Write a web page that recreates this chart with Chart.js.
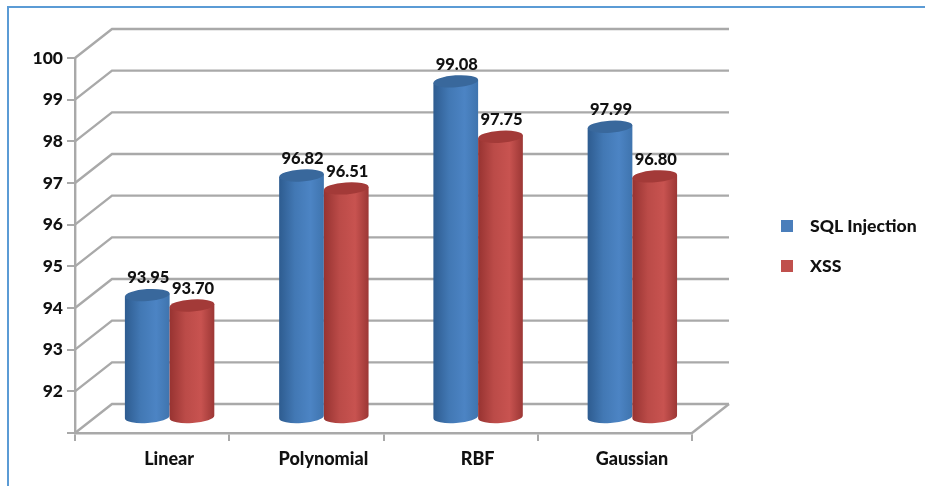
<!DOCTYPE html>
<html>
<head>
<meta charset="utf-8">
<title>Accuracy by kernel</title>
<script src="https://cdn.jsdelivr.net/npm/chart.js@4/dist/chart.umd.min.js"></script>
<style>
    html, body { margin: 0; padding: 0; background: #fff; overflow: hidden; }
    #frame { position: absolute; left: 7px; top: 6px; width: 918px; height: 480px; box-sizing: border-box;
             border-left: 2px solid #5b9bd5; border-top: 2px solid #5b9bd5; }
    #wrap { position: absolute; left: 0; top: 0; width: 925px; height: 486px; }
</style>
</head>
<body>
<div id="frame"></div>
<div id="wrap"><canvas id="chart" width="925" height="486"></canvas></div>
<script>
const categories = ['Linear', 'Polynomial', 'RBF', 'Gaussian'];
const sqlValues = [93.95, 96.82, 99.08, 97.99];
const xssValues = [93.70, 96.51, 97.75, 96.80];
const seriesNames = ['SQL Injection', 'XSS'];
const yTicks = [100, 99, 98, 97, 96, 95, 94, 93, 92];

const FONT = 'Lato, Carlito, "Open Sans", sans-serif';
const GREY = '#a9a9a9';
const TEXT = '#111';
// how far the back wall sits behind the front plane, bars stand half way
const wallX = 37, wallY = 29;
const barX = 17.5, barY = 15;

const colors = [
    { legend: '#4a7ebb', top: '#39689c', stops: ['#2e5c90', '#4278b4', '#4c84c4', '#3f74ae'] },
    { legend: '#c0504d', top: '#a33a38', stops: ['#973331', '#bb4b48', '#c85350', '#9c3735'] }
];

function drawWalls(chart) {
    const ctx = chart.ctx, y = chart.scales.y, a = chart.chartArea;
    ctx.save();
    ctx.strokeStyle = GREY;
    ctx.lineWidth = 2.4;
    [91].concat(yTicks).forEach(v => {
        const py = y.getPixelForValue(v);
        ctx.beginPath();
        ctx.moveTo(a.left, py);
        ctx.lineTo(a.left + wallX, py - wallY);
        ctx.lineTo(a.right + wallX, py - wallY);
        ctx.stroke();
    });
    ctx.beginPath();
    ctx.moveTo(a.right, a.bottom);
    ctx.lineTo(a.right + wallX, a.bottom - wallY);
    ctx.stroke();
    ctx.restore();
}

function drawCylinder(ctx, el, c) {
    const ry = 6, tilt = -0.07;
    const half = el.width / 2;
    const left = el.x - half, right = el.x + half;
    const g = ctx.createLinearGradient(left, 0, right, 0);
    g.addColorStop(0, c.stops[0]);
    g.addColorStop(0.35, c.stops[1]);
    g.addColorStop(0.7, c.stops[2]);
    g.addColorStop(1, c.stops[3]);
    ctx.fillStyle = g;
    ctx.beginPath();
    ctx.moveTo(left, el.y + 1.5);
    ctx.lineTo(left, el.base + 1.5);
    ctx.ellipse(el.x, el.base, half, ry, tilt, Math.PI, 0, true);
    ctx.lineTo(right, el.y - 1.5);
    ctx.closePath();
    ctx.fill();
    ctx.fillStyle = c.top;
    ctx.beginPath();
    ctx.ellipse(el.x, el.y, half, ry, tilt, 0, Math.PI * 2);
    ctx.fill();
}

const cylinders = {
    id: 'cylinders',
    beforeDatasetsDraw(chart) {
        const ctx = chart.ctx;
        drawWalls(chart);
        ctx.save();
        ctx.translate(barX, -barY);
        chart.data.datasets.forEach((ds, i) => {
            chart.getDatasetMeta(i).data.forEach(el => drawCylinder(ctx, el, colors[i]));
        });
        ctx.fillStyle = TEXT;
        ctx.font = '900 16.5px ' + FONT;
        ctx.textAlign = 'center';
        ctx.textBaseline = 'middle';
        chart.data.datasets.forEach((ds, i) => {
            chart.getDatasetMeta(i).data.forEach((el, j) => {
                ctx.fillText(ds.data[j].toFixed(2), el.x + 1, el.y - 17);
            });
        });
        ctx.restore();
        return false;
    },
    afterDraw(chart) {
        const ctx = chart.ctx;
        ctx.save();
        ctx.font = '900 17.6px ' + FONT;
        ctx.textBaseline = 'middle';
        chart.data.datasets.forEach((ds, i) => {
            const ly = 226 + i * 40;
            ctx.fillStyle = colors[i].legend;
            ctx.fillRect(781, ly - 6, 12, 12);
            ctx.fillStyle = TEXT;
            ctx.fillText(ds.label, 810, ly);
        });
        ctx.restore();
    }
};

new Chart(document.getElementById('chart'), {
    type: 'bar',
    data: {
        labels: categories,
        datasets: [
            { label: seriesNames[0], data: sqlValues, base: 91, backgroundColor: colors[0].legend },
            { label: seriesNames[1], data: xssValues, base: 91, backgroundColor: colors[1].legend }
        ]
    },
    plugins: [cylinders],
    options: {
        responsive: false,
        animation: false,
        layout: { padding: { top: 58, right: 233, left: 0, bottom: 0 } },
        categoryPercentage: 0.58,
        barPercentage: 1,
        plugins: { legend: { display: false }, tooltip: { enabled: false } },
        scales: {
            x: {
                afterFit: s => { s.height = 53; },
                border: { color: GREY, width: 2.4 },
                grid: { drawOnChartArea: false, color: GREY, lineWidth: 2, tickLength: 8 },
                ticks: {
                    color: TEXT, font: { family: FONT, size: 18, weight: '900' },
                    labelOffset: 17, padding: 7, maxRotation: 0
                }
            },
            y: {
                min: 91,
                max: 100,
                afterFit: s => { s.width = 75; },
                border: { color: GREY, width: 2.4 },
                grid: { drawOnChartArea: false, color: GREY, lineWidth: 2, tickLength: 8 },
                ticks: {
                    stepSize: 1, color: TEXT, padding: 4,
                    font: { family: FONT, size: 17.5, weight: '900' },
                    callback: v => yTicks.includes(v) ? String(v) : ''
                }
            }
        }
    }
});
</script>
</body>
</html>
